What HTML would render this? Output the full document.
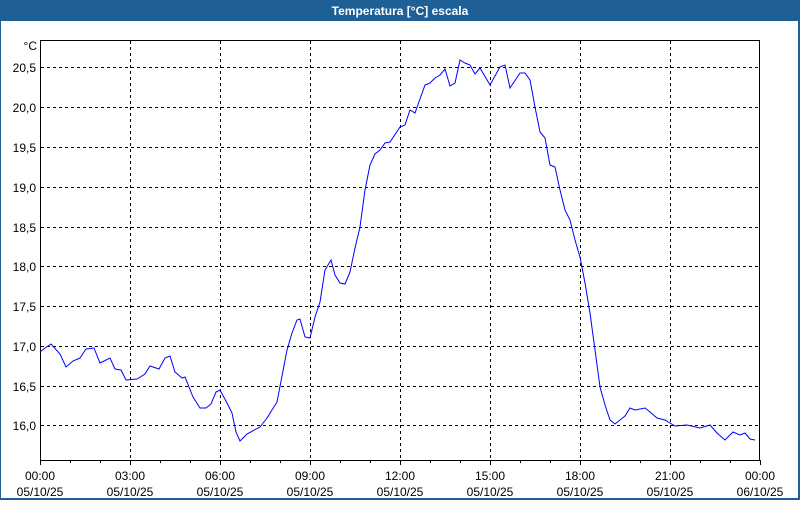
<!DOCTYPE html>
<html><head><meta charset="utf-8"><style>
body{margin:0;width:800px;height:500px;overflow:hidden;background:#fff;font-family:"Liberation Sans",sans-serif}
</style></head><body>
<svg width="800" height="500" xmlns="http://www.w3.org/2000/svg" font-family="Liberation Sans, sans-serif">
<rect x="0" y="0" width="800" height="500" fill="#fff"/>
<rect x="0" y="0" width="800" height="21" fill="#1e5f96"/>
<rect x="0" y="0" width="1" height="500" fill="#1e5f96"/>
<rect x="798" y="0" width="2" height="500" fill="#1e5f96"/>
<rect x="0" y="498" width="800" height="2" fill="#1e5f96"/>
<text x="400" y="15" fill="#fff" font-size="12" font-weight="bold" text-anchor="middle">Temperatura [°C] escala</text>
<g stroke="#000" stroke-width="1" stroke-dasharray="3,3" fill="none">
<path d="M130.5 41V460M220.5 41V460M310.5 41V460M400.5 41V460M490.5 41V460M580.5 41V460M670.5 41V460"/>
<path d="M41 67.5H760M41 107.5H760M41 147.5H760M41 187.5H760M41 227.5H760M41 266.5H760M41 306.5H760M41 346.5H760M41 386.5H760M41 425.5H760"/>
</g>
<rect x="40.5" y="40.5" width="719" height="420" fill="none" stroke="#000"/>
<g stroke="#000"><path d="M40.5 460v5M70.5 460v3M100.5 460v3M130.5 460v5M160.5 460v3M190.5 460v3M220.5 460v5M250.5 460v3M280.5 460v3M310.5 460v5M340.5 460v3M370.5 460v3M400.5 460v5M430.5 460v3M460.5 460v3M490.5 460v5M520.5 460v3M550.5 460v3M580.5 460v5M610.5 460v3M640.5 460v3M670.5 460v5M700.5 460v3M730.5 460v3M760.5 460v5"/></g>
<g font-size="12" fill="#000" text-anchor="end">
<text x="37" y="50">°C</text>
<text x="36" y="72">20,5</text><text x="36" y="112">20,0</text><text x="36" y="152">19,5</text><text x="36" y="192">19,0</text><text x="36" y="232">18,5</text><text x="36" y="271">18,0</text><text x="36" y="311">17,5</text><text x="36" y="351">17,0</text><text x="36" y="391">16,5</text><text x="36" y="430">16,0</text>
</g>
<g font-size="12" fill="#000" text-anchor="middle">
<text x="40" y="480">00:00</text><text x="40" y="496">05/10/25</text>
<text x="130" y="480">03:00</text><text x="130" y="496">05/10/25</text>
<text x="220" y="480">06:00</text><text x="220" y="496">05/10/25</text>
<text x="310" y="480">09:00</text><text x="310" y="496">05/10/25</text>
<text x="400" y="480">12:00</text><text x="400" y="496">05/10/25</text>
<text x="490" y="480">15:00</text><text x="490" y="496">05/10/25</text>
<text x="580" y="480">18:00</text><text x="580" y="496">05/10/25</text>
<text x="670" y="480">21:00</text><text x="670" y="496">05/10/25</text>
<text x="760" y="480">00:00</text><text x="760" y="496">06/10/25</text>
</g>
<polyline fill="none" stroke="#0000ff" stroke-width="1" points="40,352 45,348 51,344 60,354 66,367 73,361 80,358 86,349 94,348 100,363 110,358 115,369 121,370 126,380 137,379 145,374 150,366 159,369 165,358 170,356 175,372 182,378 185,377 193,397 200,408 206,408 211,404 216,392 220,390 227,403 232,413 236,432 240,441 247,434 260,427 267,418 277,402 287,350 292,333 297,320 300,319 305,337 310,338 315,317 320,302 325,270 331,260 335,275 340,283 345,284 350,272 355,248 360,227 365,190 370,165 375,154 380,150 385,143 390,142 400,127 405,125 410,110 415,113 425,85 430,83 435,78 440,75 445,69 450,86 455,83 460,60 465,63 470,65 475,74 480,68 490,85 500,67 505,65 510,88 520,73 525,73 530,80 535,107 540,132 545,138 550,165 555,167 560,190 565,210 570,220 575,240 580,257 585,283 590,313 595,350 600,387 605,405 610,420 615,424 620,420 625,416 630,408 635,410 645,408 650,412 657,418 665,420 675,426 687,425 700,428 710,425 717,433 725,440 733,432 740,435 745,433 750,439 755,440"/>
</svg>
</body></html>
